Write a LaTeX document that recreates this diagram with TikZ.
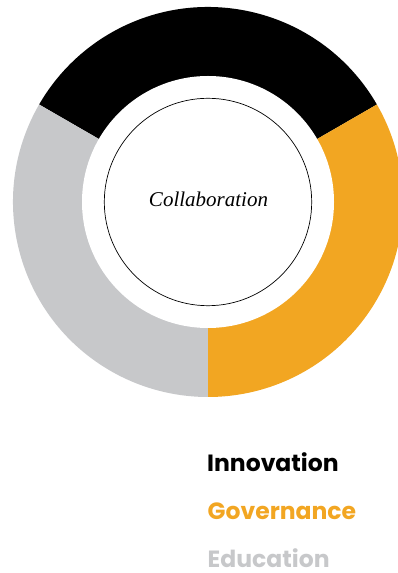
\documentclass[tikz,border=0pt]{standalone}
\usepackage{fontspec}
\newfontfamily\legendfont{Poppins}
\newfontfamily\titlefont{Liberation Serif}
\definecolor{ringblack}{HTML}{000000}
\definecolor{ringorange}{HTML}{F2A622}
\definecolor{ringgray}{HTML}{C7C8CA}
\tikzset{
  legendtext/.style={anchor=base west, inner sep=0pt, text depth=0pt, font=\legendfont\bfseries\fontsize{23.5}{23.5}\selectfont},
}
\begin{document}
\begin{tikzpicture}[x=1pt,y=1pt]
  \useasboundingbox (0,0) rectangle (398,573);
  \clip (0,0) rectangle (398,573);
  \coordinate (c) at (208,371);
  % ring segments
  \fill[ringblack] (c) -- ++(30:195) arc[start angle=30, end angle=150, radius=195] -- cycle;
  \fill[ringgray] (c) -- ++(150:195) arc[start angle=150, end angle=270, radius=195] -- cycle;
  \fill[ringorange] (c) -- ++(-90:195) arc[start angle=-90, end angle=30, radius=195] -- cycle;
  % white gap and inner circle
  \fill[white] (c) circle[radius=126];
  \draw[line width=0.7pt] (c) circle[radius=103.7];
  \node[inner sep=0pt, anchor=base, font=\titlefont\itshape\fontsize{21}{21}\selectfont] (collab) at (208.5,366.3) {Collaboration};
  % legend
  \node[legendtext, text=ringblack] (inno) at (207,101) {Innovation};
  \node[legendtext, text=ringorange] (gov) at (207.5,53.7) {Governance};
  \node[legendtext, text=ringgray] (edu) at (207.5,5.8) {Education};
\end{tikzpicture}
\end{document}
